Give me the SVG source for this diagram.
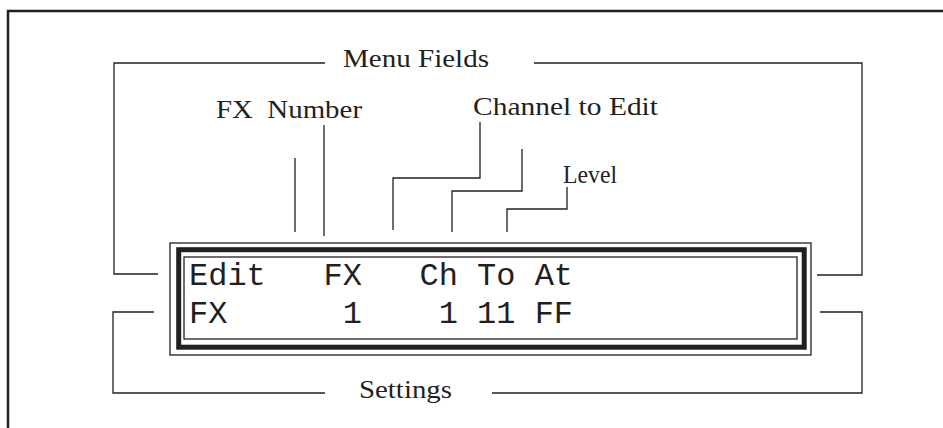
<svg xmlns="http://www.w3.org/2000/svg" width="943" height="428" viewBox="0 0 943 428">
  <style>
    .ln { fill: none; stroke: #231f20; stroke-width: 1.3; }
    .lbl { font-family: "Liberation Serif", "Times New Roman", serif; font-size: 26px; fill: #231f20; }
    .lcd { font-family: "Liberation Mono", "Courier New", monospace; font-size: 32px; fill: #231f20; }
  </style>
  <rect x="0" y="0" width="943" height="428" fill="#ffffff"/>
  <path id="frame" d="M8,428 V11 H943" fill="none" stroke="#231f20" stroke-width="2.5"/>

  <g id="connectors">
    <path class="ln" d="M325,63 H114 V274 H158"/>
    <path class="ln" d="M534,63 H862 V275 H817"/>
    <path class="ln" d="M154,312 H113 V393 H325"/>
    <path class="ln" d="M492,393 H862 V312 H820"/>
    <path class="ln" d="M295,158 V232"/>
    <path class="ln" d="M324,125 V236"/>
    <path class="ln" d="M480,122 V178 H393 V230"/>
    <path class="ln" d="M522,149 V191 H452 V232"/>
    <path class="ln" d="M567,187 V209 H507 V232"/>
  </g>

  <g id="menu-fields">
    <text class="lbl" x="343" y="67" textLength="146" lengthAdjust="spacingAndGlyphs">Menu Fields</text>
  </g>
  <g id="fx-number">
    <text class="lbl" x="216" y="118" xml:space="preserve" textLength="146" lengthAdjust="spacingAndGlyphs">FX  Number</text>
  </g>
  <g id="channel-to-edit">
    <text class="lbl" x="473" y="115" textLength="185" lengthAdjust="spacingAndGlyphs">Channel to Edit</text>
  </g>
  <g id="level">
    <text class="lbl" x="563" y="183" textLength="54" lengthAdjust="spacingAndGlyphs">Level</text>
  </g>
  <g id="settings">
    <text class="lbl" x="359" y="398" textLength="93" lengthAdjust="spacingAndGlyphs">Settings</text>
  </g>

  <g id="lcd-display">
    <rect x="170" y="243" width="641" height="112" fill="none" stroke="#231f20" stroke-width="1.3"/>
    <rect x="178.7" y="249.7" width="625.5" height="97.5" fill="none" stroke="#231f20" stroke-width="5"/>
    <rect x="184" y="257" width="613" height="82" fill="none" stroke="#231f20" stroke-width="1.3"/>
    <text class="lcd" x="189" y="285" xml:space="preserve">Edit   FX   Ch To At</text>
    <text class="lcd" x="189" y="322.7" xml:space="preserve">FX      1    1 11 FF</text>
  </g>
</svg>
